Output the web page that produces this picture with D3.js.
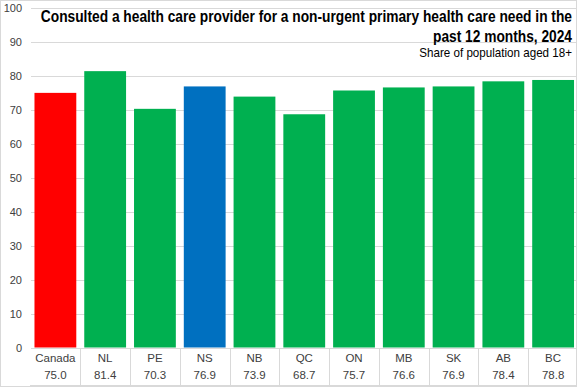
<!DOCTYPE html>
<html>
<head>
<meta charset="utf-8">
<script src="https://cdn.jsdelivr.net/npm/d3@7"></script>
<style>
  body { margin: 0; background: #fff; }
  svg { display: block; font-family: "Liberation Sans", Arial, sans-serif; }
</style>
</head>
<body>
<svg id="chart" width="577" height="387"></svg>
<script>
// Data
const regions = ["Canada", "NL", "PE", "NS", "NB", "QC", "ON", "MB", "SK", "AB", "BC"];
const shares = [75.0, 81.4, 70.3, 76.9, 73.9, 68.7, 75.7, 76.6, 76.9, 78.4, 78.8];
const yTicks = [0, 10, 20, 30, 40, 50, 60, 70, 80, 90, 100];
const titleLines = ["Consulted a health care provider for a non-urgent primary health care need in the", "past 12 months, 2024"];
const subtitle = "Share of population aged 18+";

const width = 577, height = 387;
const svg = d3.select("#chart");

// outer border
svg.append("rect")
  .attr("x", 0.5).attr("y", 0.5)
  .attr("width", width - 1).attr("height", height - 1)
  .attr("fill", "none").attr("stroke", "#d9d9d9");

const x = d3.scaleBand()
  .domain(regions)
  .range([30.5, 578])
  .paddingInner(0.16)
  .paddingOuter(0.08);

const y = d3.scaleLinear()
  .domain([0, 100])
  .range([347.5, 8]);

// gridlines
svg.append("g")
  .selectAll("line")
  .data(yTicks)
  .join("line")
  .attr("x1", 31).attr("x2", 576)
  .attr("y1", d => Math.round(y(d)) + 0.5)
  .attr("y2", d => Math.round(y(d)) + 0.5)
  .attr("stroke", "#d9d9d9");

// y tick labels
svg.append("g")
  .selectAll("text")
  .data(yTicks)
  .join("text")
  .attr("x", 22)
  .attr("y", d => y(d) + 4)
  .attr("text-anchor", "end")
  .attr("font-size", 11)
  .attr("fill", "#404040")
  .text(d => d);

// bars
function barColor(d) {
  if (d === "Canada") return "#ff0000";
  if (d === "NS") return "#0070c0";
  return "#00b050";
}

svg.append("g")
  .selectAll("rect")
  .data(regions)
  .join("rect")
  .attr("x", d => x(d))
  .attr("y", (d, i) => y(shares[i]))
  .attr("width", x.bandwidth())
  .attr("height", (d, i) => y(0) - y(shares[i]))
  .attr("fill", d => barColor(d));

// category table under the axis
const step = x.step();
const cellLeft = d => x(d) - step * x.paddingInner() / 2;
const table = svg.append("g");

table.selectAll("line.sep")
  .data(regions.slice(1))
  .join("line")
  .attr("class", "sep")
  .attr("x1", d => Math.round(cellLeft(d)) + 0.5)
  .attr("x2", d => Math.round(cellLeft(d)) + 0.5)
  .attr("y1", 348).attr("y2", 386)
  .attr("stroke", "#d9d9d9");

table.append("line")
  .attr("x1", 30).attr("x2", 577)
  .attr("y1", 385.5).attr("y2", 385.5)
  .attr("stroke", "#d9d9d9");

table.selectAll("text.cat")
  .data(regions)
  .join("text")
  .attr("class", "cat")
  .attr("x", d => x(d) + x.bandwidth() / 2)
  .attr("y", 362)
  .attr("text-anchor", "middle")
  .attr("font-size", 11.5)
  .attr("fill", "#404040")
  .text(d => d);

table.selectAll("text.val")
  .data(regions)
  .join("text")
  .attr("class", "val")
  .attr("x", d => x(d) + x.bandwidth() / 2)
  .attr("y", 379)
  .attr("text-anchor", "middle")
  .attr("font-size", 11.5)
  .attr("fill", "#404040")
  .text((d, i) => shares[i].toFixed(1));

// Title: the original uses a narrow font, so squeeze each line horizontally
// to the width it takes in the picture.
function squeezed(str, baseY, size, bold, target) {
  const t = svg.append("text")
    .attr("text-anchor", "end")
    .attr("font-size", size)
    .attr("font-weight", bold ? "bold" : "normal")
    .attr("fill", "#000")
    .text(str);
  const k = Math.min(1, target / t.node().getComputedTextLength());
  t.attr("transform", `translate(572, ${baseY}) scale(${k}, 1)`);
}

squeezed(titleLines[0], 22, 16, true, 532);
squeezed(titleLines[1], 42, 16, true, 139);
squeezed(subtitle, 57, 12, false, 153);
</script>
</body>
</html>
